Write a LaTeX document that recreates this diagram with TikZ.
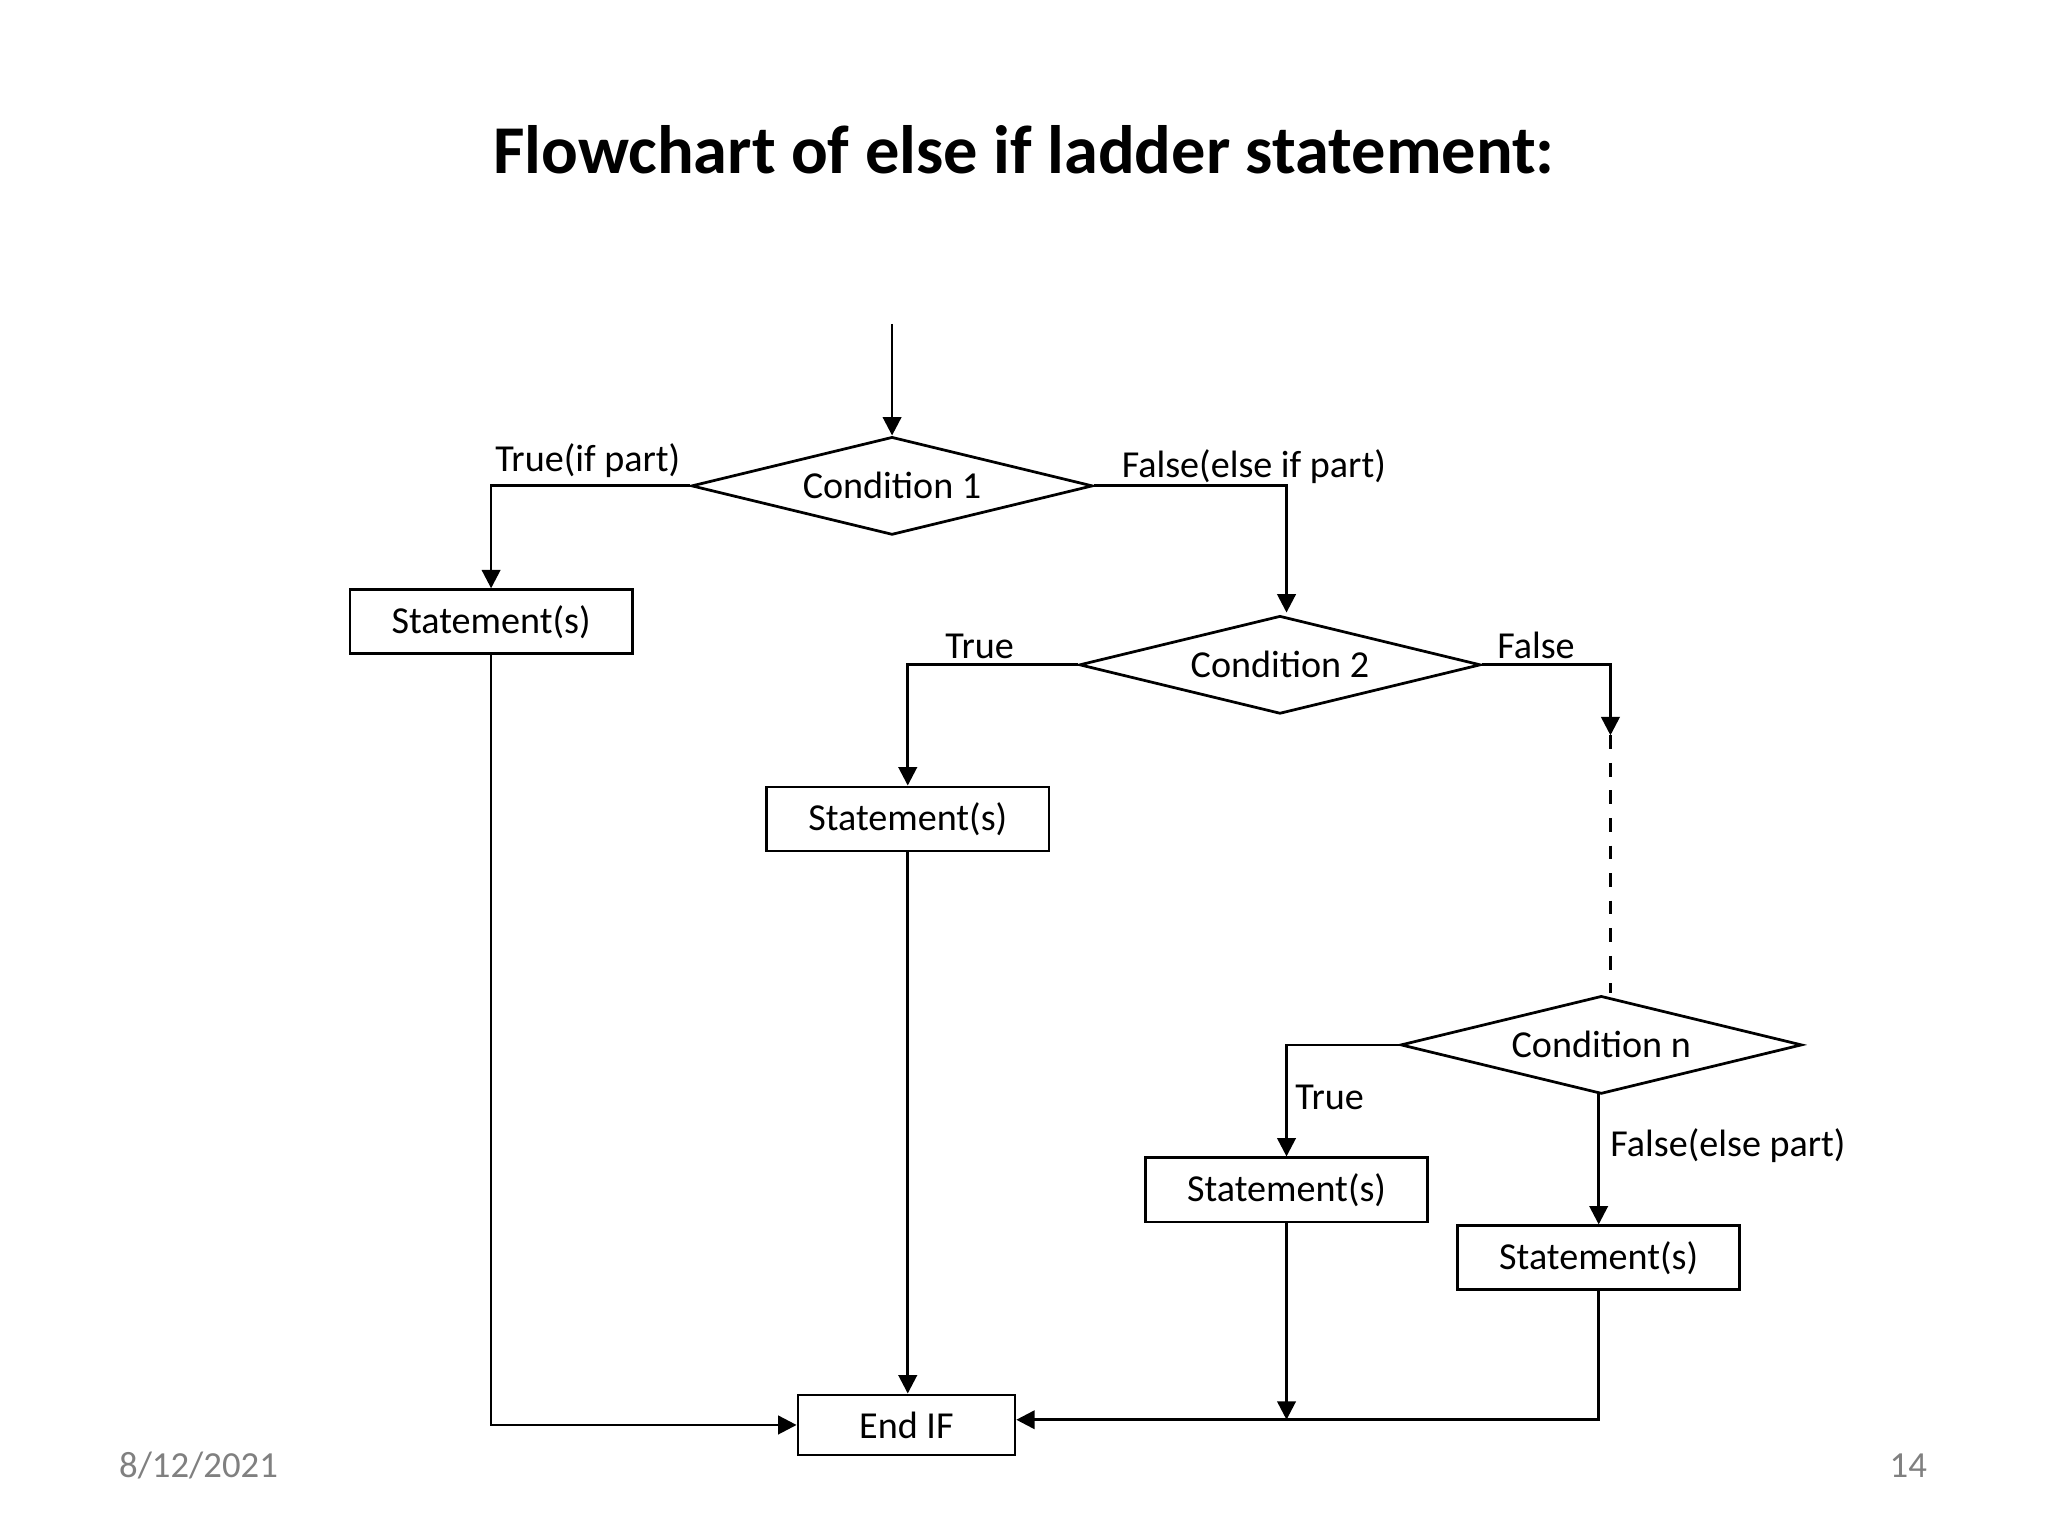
\documentclass[tikz,border=0pt]{standalone}
\usepackage{fontspec}
\setmainfont{Carlito}
\usetikzlibrary{shapes.geometric,arrows.meta}
\begin{document}
\begin{tikzpicture}[x=0.01cm,y=-0.01cm,
  box/.style={draw,semithick,minimum width=2.16cm,minimum height=0.49cm,inner sep=0pt,font=\fontsize{8.3}{9}\selectfont},
  dia/.style={draw,semithick,diamond,aspect=4.2,minimum width=3.07cm,minimum height=0.75cm,inner sep=0pt,font=\fontsize{8.3}{9}\selectfont},
  lbl/.style={font=\fontsize{8.3}{9}\selectfont},
  arr/.style={semithick,-{Triangle[length=4pt,width=4pt]}},
  ln/.style={semithick}]
\useasboundingbox (0,0) rectangle (1568,1176);
\node[font=\bfseries\fontsize{14.9}{17}\selectfont] (title) at (784,115) {Flowchart of else if ladder statement:};
\coordinate (start) at (683,248);
\node[dia] (c1) at (683,372) {Condition 1};
\node[dia] (c2) at (980,509) {Condition 2};
\node[dia] (cn) at (1226,800) {Condition n};
\node[box] (s1) at (376,476) {Statement(s)};
\node[box] (s2) at (695,627) {Statement(s)};
\node[box] (s3) at (985,911) {Statement(s)};
\node[box] (s4) at (1224,963) {Statement(s)};
\node[box,minimum width=1.66cm,minimum height=0.46cm] (end) at (694,1091) {End IF};
\coordinate (c2top) at (985,469);
\coordinate (cnbot) at (1224,836);
\draw[arr] (start) -- (c1.north);
\draw[arr] (c1.west) -| (s1.north);
\draw[arr] (c1.east) -| (c2top);
\draw[arr] (c2.west) -| (s2.north);
\coordinate (d1) at (1233,563);
\draw[arr] (c2.east) -| (d1);
\draw[semithick,dashed] (d1) -- (1233,760);
\draw[arr] (cn.west) -| (s3.north);
\draw[arr] (cnbot) -- (s4.north);
\draw[arr] (s1.south) |- (end.west);
\draw[arr] (s2.south) -- (end.north -| s2.south);
\coordinate (j) at (s3.south |- 0,1087);
\draw[arr] (s3.south) -- (j);
\draw[arr] (s4.south) |- (end.east |- 0,1087);
\node[lbl] (l1) at (450,353) {True(if part)};
\node[lbl] (l2) at (960,357) {False(else if part)};
\node[lbl] (l3) at (750,495) {True};
\node[lbl] (l4) at (1176,494) {False};
\node[lbl] (l5) at (1018,840) {True};
\node[lbl] (l6) at (1323,877) {False(else part)};
\node[font=\fontsize{8}{9}\selectfont,text=gray] (date) at (152,1122) {8/12/2021};
\node[font=\fontsize{8}{9}\selectfont,text=gray] (pg) at (1461,1122) {14};
\end{tikzpicture}
\end{document}
